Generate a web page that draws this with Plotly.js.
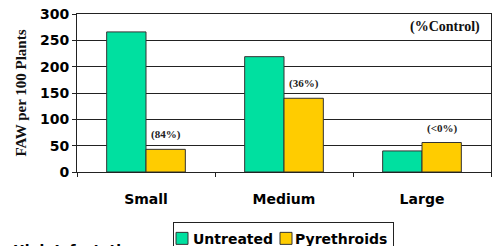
<!DOCTYPE html>
<html>
<head>
<meta charset="utf-8">
<script src="https://cdn.plot.ly/plotly-3.0.1.min.js"></script>
<style>html,body{margin:0;padding:0;background:#fff;}</style>
</head>
<body>
<div id="chart" style="width:492px;height:246px;"></div>
<script>
var categories = ["Small", "Medium", "Large"];
var untreated = [266, 219, 40];
var pyrethroids = [43, 140, 56];
var controlLabels = ["(84%)", "(36%)", "(<0%)"];
var yTicks = [0, 50, 100, 150, 200, 250, 300];

var sans = "DejaVu Sans, Arial, sans-serif";
var serif = "Liberation Serif, Times New Roman, serif";

var traces = [
  {type: "bar", name: "Untreated", x: categories, y: untreated,
   marker: {color: "#00E0A0", line: {color: "#333", width: 1}}},
  {type: "bar", name: "Pyrethroids", x: categories, y: pyrethroids,
   marker: {color: "#FFCC00", line: {color: "#333", width: 1}}}
];

var annotations = categories.map(function (c, i) {
  return {x: c, y: pyrethroids[i], xref: "x", yref: "y", xshift: 19.7,
    text: "<b>" + controlLabels[i] + "</b>", showarrow: false,
    yanchor: "bottom", yshift: 6, font: {family: serif, size: 11, color: "#222"}};
});
annotations.push({xref: "paper", yref: "paper", x: 0.978, y: 0.915, xanchor: "right",
  yanchor: "middle", text: "<b>(%Control)</b>", showarrow: false,
  font: {family: serif, size: 14, color: "#111"}});
annotations.push({xref: "paper", yref: "paper", x: -0.16, y: -0.43, xanchor: "left",
  yanchor: "top", text: "<b>High Infestation</b>", showarrow: false,
  font: {family: sans, size: 14, color: "#000"}});

var layout = {
  width: 492, height: 246,
  margin: {l: 77, r: 1, t: 14, b: 74, autoexpand: false},
  paper_bgcolor: "#fff", plot_bgcolor: "#fff",
  barmode: "group", bargap: 0.43, bargroupgap: 0,
  showlegend: true,
  legend: {orientation: "h", x: 0.232, y: -0.315, xanchor: "left", yanchor: "top",
    bordercolor: "#222", borderwidth: 1, bgcolor: "#fff",
    font: {family: sans, size: 14, color: "#000", weight: "bold"},
    itemwidth: 30, tracegroupgap: 0},
  xaxis: {type: "category", showline: true, linecolor: "#222", linewidth: 1, mirror: true,
    ticks: "outside", tickson: "boundaries", ticklen: 4, tickcolor: "#222",
    showgrid: false, ticklabelstandoff: 14,
    tickfont: {family: sans, size: 14, color: "#000", weight: "bold"}},
  yaxis: {range: [0, 300], tickvals: yTicks, ticks: "outside", ticklen: 4, tickcolor: "#222",
    showline: true, linecolor: "#222", linewidth: 1, mirror: true,
    showgrid: true, gridcolor: "#222", gridwidth: 1, zeroline: false,
    tickfont: {family: sans, size: 14, color: "#000", weight: "bold"},
    title: {text: "<b>FAW per 100 Plants</b>", standoff: 9,
      font: {family: serif, size: 15, color: "#111"}}},
  annotations: annotations
};

// compact legend layout (symbol close to its label), as in the reference
var legendSymbolCenters = [182, 286];
var legendTextLefts = [193, 295];
var legendRight = 393;

Plotly.newPlot("chart", traces, layout, {displayModeBar: false, staticPlot: true}).then(function (gd) {
  var legend = gd.querySelector(".legend");
  if (!legend) return;
  var items = legend.querySelectorAll(".traces");
  items.forEach(function (t, i) {
    var pts = t.querySelector(".legendpoints");
    if (pts) {
      var r = pts.getBoundingClientRect();
      var dx = legendSymbolCenters[i] - (r.left + r.width / 2);
      pts.setAttribute("transform", (pts.getAttribute("transform") || "") + " translate(" + dx + ",0)");
    }
    var txt = t.querySelector(".legendtext");
    if (txt) {
      var rt = txt.getBoundingClientRect();
      var dxt = legendTextLefts[i] - rt.left;
      txt.setAttribute("x", parseFloat(txt.getAttribute("x") || 0) + dxt);
      txt.querySelectorAll("tspan[x]").forEach(function (s) {
        s.setAttribute("x", parseFloat(s.getAttribute("x")) + dxt);
      });
    }
  });
  var bg = legend.querySelector("rect.bg");
  if (bg) {
    var b = bg.getBoundingClientRect();
    bg.setAttribute("width", parseFloat(bg.getAttribute("width")) + (legendRight - b.right));
  }
});
</script>
</body>
</html>
